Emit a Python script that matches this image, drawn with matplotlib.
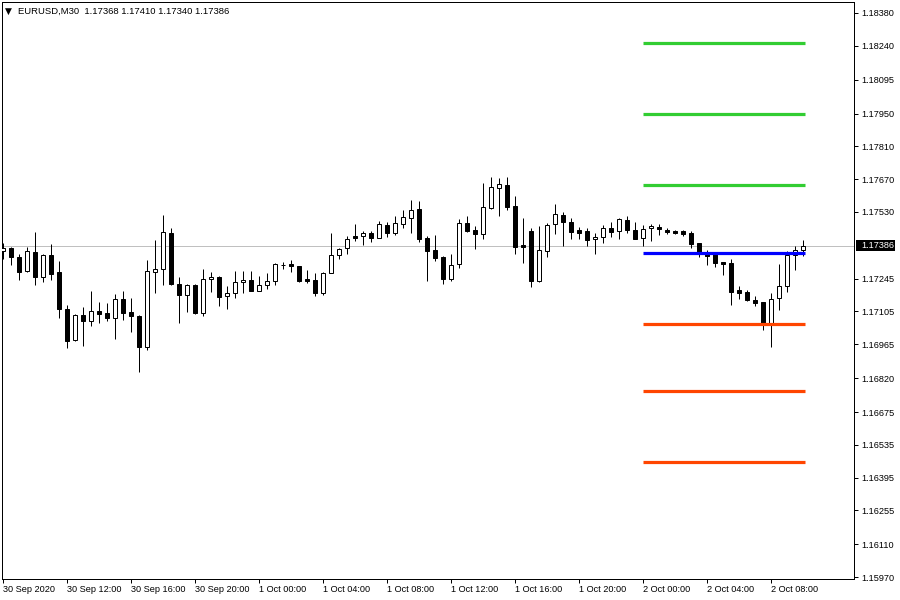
import matplotlib
matplotlib.use("Agg")
import matplotlib.pyplot as plt
from matplotlib.patches import Rectangle
from matplotlib.transforms import blended_transform_factory

plt.rcParams['font.family'] = ['Liberation Sans', 'DejaVu Sans']

# EURUSD M30, 30 Sep 2020 08:00 .. 2 Oct 2020 10:00
opens = [1.17363, 1.17376, 1.17337, 1.17278, 1.17359, 1.17252, 1.17346, 1.17273, 1.17115, 1.16983,
         1.17090, 1.17064, 1.17107, 1.17098, 1.17077, 1.17158, 1.17102, 1.17085, 1.16953, 1.17273,
         1.17286, 1.17440, 1.17222, 1.17175, 1.17218, 1.17098, 1.17243, 1.17252, 1.17171, 1.17184,
         1.17231, 1.17239, 1.17192, 1.17218, 1.17235, 1.17303, 1.17307, 1.17299, 1.17243, 1.17239,
         1.17184, 1.17269, 1.17346, 1.17376, 1.17427, 1.17427, 1.17440, 1.17419, 1.17474, 1.17440,
         1.17478, 1.17504, 1.17542, 1.17419, 1.17367, 1.17337, 1.17243, 1.17307, 1.17483, 1.17453,
         1.17436, 1.17547, 1.17632, 1.17645, 1.17555, 1.17389, 1.17449, 1.17235, 1.17363, 1.17478,
         1.17517, 1.17487, 1.17453, 1.17449, 1.17414, 1.17423, 1.17461, 1.17449, 1.17495, 1.17453,
         1.17419, 1.17461, 1.17466, 1.17453, 1.17449, 1.17449, 1.17440, 1.17397, 1.17350, 1.17350,
         1.17316, 1.17312, 1.17196, 1.17188, 1.17154, 1.17145, 1.17051, 1.17162, 1.17213, 1.17346,
         1.17368]
highs = [1.17397, 1.17380, 1.17350, 1.17380, 1.17444, 1.17350, 1.17393, 1.17320, 1.17132, 1.17094,
         1.17124, 1.17192, 1.17145, 1.17141, 1.17179, 1.17192, 1.17162, 1.17090, 1.17325, 1.17410,
         1.17517, 1.17461, 1.17252, 1.17222, 1.17222, 1.17286, 1.17273, 1.17256, 1.17213, 1.17278,
         1.17278, 1.17278, 1.17256, 1.17269, 1.17312, 1.17316, 1.17325, 1.17300, 1.17282, 1.17269,
         1.17273, 1.17440, 1.17376, 1.17427, 1.17478, 1.17449, 1.17449, 1.17491, 1.17487, 1.17513,
         1.17538, 1.17581, 1.17577, 1.17427, 1.17431, 1.17342, 1.17350, 1.17500, 1.17513, 1.17470,
         1.17654, 1.17681, 1.17675, 1.17679, 1.17598, 1.17504, 1.17461, 1.17470, 1.17483, 1.17564,
         1.17530, 1.17504, 1.17466, 1.17461, 1.17440, 1.17474, 1.17487, 1.17504, 1.17513, 1.17487,
         1.17474, 1.17478, 1.17478, 1.17461, 1.17453, 1.17453, 1.17449, 1.17397, 1.17367, 1.17350,
         1.17316, 1.17329, 1.17213, 1.17196, 1.17171, 1.17145, 1.17184, 1.17307, 1.17363, 1.17384,
         1.17410]
lows = [1.17329, 1.17303, 1.17239, 1.17273, 1.17218, 1.17231, 1.17239, 1.17077, 1.16949, 1.16978,
        1.16957, 1.17043, 1.17055, 1.17064, 1.16987, 1.17068, 1.17017, 1.16846, 1.16940, 1.17184,
        1.17218, 1.17218, 1.17055, 1.17102, 1.17094, 1.17085, 1.17188, 1.17128, 1.17115, 1.17162,
        1.17184, 1.17192, 1.17192, 1.17201, 1.17218, 1.17286, 1.17273, 1.17231, 1.17226, 1.17171,
        1.17175, 1.17269, 1.17329, 1.17350, 1.17406, 1.17389, 1.17401, 1.17419, 1.17423, 1.17431,
        1.17461, 1.17440, 1.17401, 1.17235, 1.17320, 1.17222, 1.17235, 1.17290, 1.17444, 1.17372,
        1.17414, 1.17542, 1.17513, 1.17538, 1.17350, 1.17312, 1.17209, 1.17231, 1.17337, 1.17436,
        1.17384, 1.17414, 1.17414, 1.17384, 1.17350, 1.17397, 1.17423, 1.17414, 1.17440, 1.17414,
        1.17384, 1.17406, 1.17431, 1.17436, 1.17436, 1.17427, 1.17376, 1.17337, 1.17303, 1.17295,
        1.17260, 1.17132, 1.17158, 1.17149, 1.17128, 1.17026, 1.16953, 1.17111, 1.17188, 1.17282,
        1.17340]
closes = [1.17376, 1.17337, 1.17273, 1.17363, 1.17252, 1.17346, 1.17265, 1.17115, 1.16978, 1.17090,
          1.17064, 1.17107, 1.17094, 1.17077, 1.17158, 1.17098, 1.17085, 1.16953, 1.17278, 1.17286,
          1.17444, 1.17222, 1.17175, 1.17218, 1.17098, 1.17243, 1.17252, 1.17166, 1.17184, 1.17231,
          1.17239, 1.17192, 1.17218, 1.17235, 1.17307, 1.17304, 1.17299, 1.17235, 1.17235, 1.17184,
          1.17269, 1.17346, 1.17372, 1.17414, 1.17419, 1.17440, 1.17419, 1.17478, 1.17440, 1.17483,
          1.17508, 1.17538, 1.17414, 1.17363, 1.17333, 1.17243, 1.17303, 1.17483, 1.17449, 1.17436,
          1.17551, 1.17637, 1.17649, 1.17551, 1.17380, 1.17380, 1.17235, 1.17367, 1.17474, 1.17521,
          1.17487, 1.17444, 1.17440, 1.17410, 1.17423, 1.17461, 1.17444, 1.17500, 1.17453, 1.17414,
          1.17457, 1.17470, 1.17457, 1.17444, 1.17440, 1.17436, 1.17393, 1.17355, 1.17342, 1.17312,
          1.17307, 1.17188, 1.17184, 1.17154, 1.17141, 1.17051, 1.17158, 1.17213, 1.17346, 1.17367,
          1.17386]

# pivot levels for 2 Oct
resist_levels = [1.18252, 1.17948, 1.17645]
pivot_level = 1.17353
support_levels = [1.17050, 1.16765, 1.16461]
pivot_start = 80  # 2 Oct 00:00 bar

last_price = 1.17386
price_ticks = [1.18380, 1.18240, 1.18095, 1.17950, 1.17810, 1.17670, 1.17530, 1.17245, 1.17105,
               1.16965, 1.16820, 1.16675, 1.16535, 1.16395, 1.16255, 1.16110, 1.15970]
time_tick_bars = [0, 8, 16, 24, 32, 40, 48, 56, 64, 72, 80, 88, 96]
time_tick_labels = ["30 Sep 2020", "30 Sep 12:00", "30 Sep 16:00", "30 Sep 20:00", "1 Oct 00:00",
                    "1 Oct 04:00", "1 Oct 08:00", "1 Oct 12:00", "1 Oct 16:00", "1 Oct 20:00",
                    "2 Oct 00:00", "2 Oct 04:00", "2 Oct 08:00"]
header = "EURUSD,M30  1.17368 1.17410 1.17340 1.17386"

W, H = 900, 600
fig = plt.figure(figsize=(9, 6), dpi=100)
ax = fig.add_axes([2 / W, 1 - 579 / H, 852 / W, 577 / H])

px = 1.0 * 72 / 100  # one pixel in points
n = len(opens)
xs = list(range(n))

# current price line
ax.axhline(last_price, color="#c0c0c0", lw=px, zorder=1)

# wicks
ax.vlines(xs, lows, highs, color="black", lw=px, zorder=2)

# bodies
for i in xs:
    o, c = opens[i], closes[i]
    bottom = min(o, c)
    height = max(abs(c - o), 1e-6)
    face = "white" if c >= o else "black"
    ax.add_patch(Rectangle((i - 0.24, bottom), 0.48, height, facecolor=face,
                           edgecolor="black", lw=px, zorder=3))

# pivot lines
x0, x1 = pivot_start - 0.05, n - 1 + 0.15
for lvl in resist_levels:
    ax.plot([x0, x1], [lvl, lvl], color="#32cd32", lw=2.3, solid_capstyle="butt", zorder=4)
ax.plot([x0, x1], [pivot_level, pivot_level], color="#0000ff", lw=2.3,
        solid_capstyle="butt", zorder=4)
for lvl in support_levels:
    ax.plot([x0, x1], [lvl, lvl], color="#ff4500", lw=2.3, solid_capstyle="butt", zorder=4)

ax.set_xlim((2 - 3.3) / 8, (854 - 3.3) / 8)
ax.set_ylim(1.159615, 1.184270)

for s in ax.spines.values():
    s.set_linewidth(px)
    s.set_color("black")

ax.yaxis.tick_right()
ax.set_yticks(price_ticks)
ax.set_yticklabels([f"{v:.5f}" for v in price_ticks])
ax.tick_params(axis="y", which="both", direction="out", length=3, width=px, pad=2.5,
               labelsize=6.6, colors="black")

ax.set_xticks(time_tick_bars)
ax.set_xticklabels(time_tick_labels)
ax.tick_params(axis="x", direction="out", length=3, width=px, pad=1.5, labelsize=6.6,
               colors="black")
for lbl in ax.get_xticklabels():
    lbl.set_horizontalalignment("left")

# current price label on the axis
tr = blended_transform_factory(fig.transFigure, ax.transData)
box_h = 11 * 0.00004273
ax.add_patch(Rectangle((856 / W, last_price - box_h / 2), 39 / W, box_h, transform=tr,
                       facecolor="black", edgecolor="none", clip_on=False, zorder=5))
ax.text(861 / W, last_price, f"{last_price:.5f}", transform=tr, color="white",
        fontsize=6.6, va="center", ha="left", zorder=6, clip_on=False)

# header
fig.text(5 / W, 1 - 11 / H, "\u25bc", fontsize=6.5, va="center", ha="left", color="black",
         family="DejaVu Sans")
fig.text(18 / W, 1 - 11 / H, header, fontsize=6.8, va="center", ha="left", color="black")

fig.savefig("out.png", dpi=100, facecolor="white")
